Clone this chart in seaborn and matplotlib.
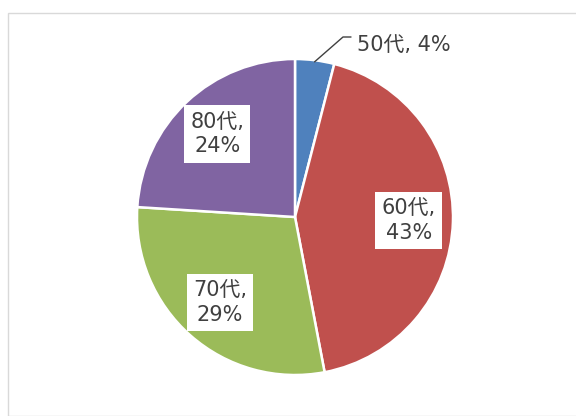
import matplotlib
matplotlib.use("Agg")
import matplotlib.pyplot as plt
from matplotlib.patches import Rectangle
import numpy as np
import seaborn as sns

# Age-group shares (percent)
age_groups = ["50代", "60代", "70代", "80代"]
shares = [4, 43, 29, 24]
slice_colors = ["#4F81BD", "#C0504D", "#9BBB59", "#8064A2"]

sns.set_theme(style="white")
plt.rcParams["font.family"] = ["DejaVu Sans", "Noto Sans CJK JP"]

W, H, DPI = 576, 416, 100
fig = plt.figure(figsize=(W / DPI, H / DPI), dpi=DPI)
fig.patch.set_facecolor("white")

# Light frame around the chart area
fig.add_artist(Rectangle((8 / W, 0), 1.2, 1 - 13 / H, transform=fig.transFigure,
                         fill=False, edgecolor="#d9d9d9", linewidth=1.0))

# Axes spanning the figure, one data unit = the pie radius in pixels
R = 158.0
cx, cy = 295.0, 217.0
ax = fig.add_axes([0, 0, 1, 1])

wedges, _ = ax.pie(shares, colors=sns.color_palette(slice_colors), startangle=90,
                   counterclock=False, radius=1.0,
                   wedgeprops=dict(edgecolor="white", linewidth=1.8))

ax.set_xlim(-cx / R, (W - cx) / R)
ax.set_ylim(-(H - cy) / R, cy / R)
ax.set_aspect("equal")
ax.axis("off")

text_color = "#404040"
for w, name, pct in zip(wedges, age_groups, shares):
    mid = np.deg2rad((w.theta1 + w.theta2) / 2)
    if pct < 10:
        # small slice: outside label with a leader line
        ex, ey = np.cos(mid), np.sin(mid)
        kx, ky = 48 / R, 180 / R
        ax.plot([ex * 0.99, kx, kx + 8 / R], [ey * 0.99, ky, ky],
                color=text_color, linewidth=1.0)
        ax.text(kx + 14 / R, ky + 2 / R, f"{name}, {pct}%", ha="left", va="top",
                fontsize=15, color=text_color,
                bbox=dict(boxstyle="square,pad=0.15", facecolor="white", edgecolor="none"))
    else:
        d = 0.72
        ax.text(d * np.cos(mid), d * np.sin(mid), f"{name},\n{pct}%",
                ha="center", va="center", fontsize=15, color=text_color,
                linespacing=1.3,
                bbox=dict(boxstyle="square,pad=0.3", facecolor="white", edgecolor="none"))

fig.savefig("out.png", dpi=DPI, facecolor="white")
